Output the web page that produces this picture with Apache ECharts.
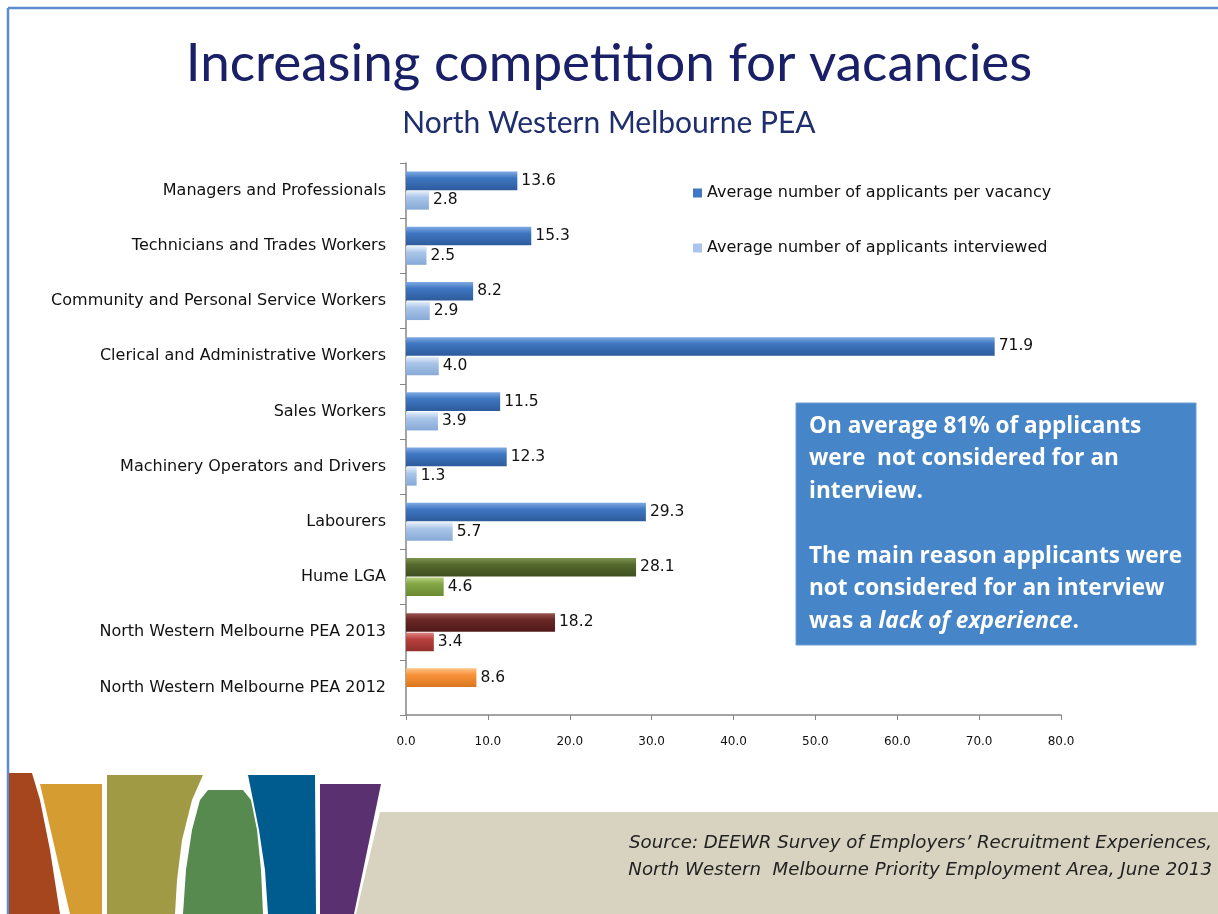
<!DOCTYPE html>
<html>
<head>
<meta charset="utf-8">
<script src="https://cdn.jsdelivr.net/npm/echarts@6/dist/echarts.min.js"></script>
<style>html,body{margin:0;padding:0;background:#fff}#c{width:1218px;height:914px}</style>
</head>
<body>
<div id="c"></div>
<script>
// ---- data ----
var categories = [
  'Managers and Professionals',
  'Technicians and Trades Workers',
  'Community and Personal Service Workers',
  'Clerical and Administrative Workers',
  'Sales Workers',
  'Machinery Operators and Drivers',
  'Labourers',
  'Hume LGA',
  'North Western Melbourne PEA 2013',
  'North Western Melbourne PEA 2012'
];
var perVacancy  = [13.6, 15.3, 8.2, 71.9, 11.5, 12.3, 29.3, 28.1, 18.2, 8.6];
var interviewed = [2.8, 2.5, 2.9, 4.0, 3.9, 1.3, 5.7, 4.6, 3.4, null];
var seriesNames = ['Average number of applicants per vacancy', 'Average number of applicants interviewed'];
var xTicks = [0, 10, 20, 30, 40, 50, 60, 70, 80];

// ---- styles ----
var blueMain  = ['#7faae3', '#3f77c2', '#2d5b9c'];
var blueLight = ['#e4eefa', '#a9c5e9', '#87a9d6'];
var mainColors = [blueMain, blueMain, blueMain, blueMain, blueMain, blueMain, blueMain,
  ['#7f9450', '#55692d', '#3f4f20'], ['#9a5552', '#6a2725', '#4e1a19'], ['#ffc183', '#f7923a', '#d9761e']];
var lightColors = [blueLight, blueLight, blueLight, blueLight, blueLight, blueLight, blueLight,
  ['#b8d27f', '#84a646', '#6a8a32'], ['#dc8583', '#b9403d', '#93302d'], null];

function grad(c) {
  return new echarts.graphic.LinearGradient(0, 0, 0, 1, [
    {offset: 0, color: c[0]}, {offset: 0.35, color: c[1]}, {offset: 1, color: c[2]}
  ]);
}
function build(vals, cols) {
  return vals.map(function (v, i) {
    if (v === null) return '-';
    return {value: v, itemStyle: {color: grad(cols[i])}};
  });
}

var FONT = 'DejaVu Sans';
var chart = echarts.init(document.getElementById('c'), null, {renderer: 'canvas'});
var labelCfg = {
  show: true, position: 'right', distance: 4, color: '#111', fontFamily: FONT, fontSize: 15.5,
  formatter: function (p) { return Number(p.value).toFixed(1); }
};
function poly(pts, fill) {
  return {type: 'polygon', shape: {points: pts}, style: {fill: fill}};
}

chart.setOption({
  backgroundColor: '#fff',
  animation: false,
  title: [
    {text: 'Increasing competition for vacancies', left: 'center', top: 32,
     textStyle: {fontFamily: 'Lato', fontWeight: 'normal', fontSize: 53, color: '#1a2067'}},
    {text: 'North Western Melbourne PEA', left: 'center', top: 103,
     textStyle: {fontFamily: 'Lato', fontWeight: 'normal', fontSize: 30, color: '#1f2f6e'}}
  ],
  legend: {
    orient: 'vertical', left: 688, top: 180, itemGap: 39,
    itemWidth: 9, itemHeight: 9, icon: 'rect',
    textStyle: {fontFamily: FONT, fontSize: 16, color: '#111'},
    data: seriesNames
  },
  grid: {left: 406, right: 157, top: 163, bottom: 199, containLabel: false},
  xAxis: {
    type: 'value', min: 0, max: 80, interval: 10,
    axisLine: {show: true, lineStyle: {color: '#868686', width: 1.5}},
    axisTick: {show: true, length: 5, lineStyle: {color: '#868686'}},
    splitLine: {show: false},
    axisLabel: {fontFamily: FONT, fontSize: 12, color: '#111', margin: 21,
      formatter: function (v) { return xTicks.indexOf(v) >= 0 ? v.toFixed(1) : ''; }}
  },
  yAxis: {
    type: 'category', inverse: true, data: categories,
    axisLine: {show: true, lineStyle: {color: '#868686', width: 1.5}},
    axisTick: {show: true, length: 6, lineStyle: {color: '#868686'}},
    axisLabel: {fontFamily: FONT, fontSize: 16, color: '#111', margin: 20}
  },
  series: [
    {name: seriesNames[0], type: 'bar', data: build(perVacancy, mainColors),
     itemStyle: {color: '#3f77c2'}, barCategoryGap: '31%', barGap: '5%', label: labelCfg},
    {name: seriesNames[1], type: 'bar', data: build(interviewed, lightColors),
     itemStyle: {color: '#a9c5e9'}, label: labelCfg}
  ],
  graphic: [
    {type: 'line', shape: {x1: 8, y1: 8, x2: 1218, y2: 8}, style: {stroke: '#5b8bd0', lineWidth: 2.5}},
    {type: 'line', shape: {x1: 8, y1: 8, x2: 8, y2: 914}, style: {stroke: '#5b8bd0', lineWidth: 2.5}},
    {type: 'rect', shape: {x: 796, y: 403, width: 400, height: 242}, style: {fill: '#4785c9', stroke: '#6d9bd6', lineWidth: 1}},
    {type: 'text', x: 809, y: 410, style: {
      text: 'On average 81% of applicants\nwere  not considered for an\ninterview.\n\nThe main reason applicants were\nnot considered for an interview\nwas a {i|lack of experience}.',
      fill: '#fff', fontFamily: 'Open Sans', fontWeight: 'bold', fontSize: 22.6, lineHeight: 32.5,
      rich: {i: {fontStyle: 'italic', fontWeight: 'bold', fontFamily: 'Open Sans', fontSize: 22.6, fill: '#fff', lineHeight: 32.5}}
    }},
    // bottom decorative band
    poly([[380, 812], [1218, 812], [1218, 914], [356, 914]], '#d8d3c1'),
    poly([[9, 773], [32, 773], [40, 800], [50, 850], [60, 914], [9, 914]], '#a5461e'),
    poly([[40, 784], [102, 784], [102, 914], [70, 914]], '#d59c32'),
    poly([[107, 775], [203, 775], [192, 800], [182, 840], [177, 880], [175, 914], [107, 914]], '#a09a45'),
    poly([[183, 914], [186, 870], [192, 830], [200, 800], [208, 790], [243, 790], [251, 800], [257, 830], [261, 870], [263, 914]], '#568a4f'),
    poly([[248, 775], [315, 775], [316, 914], [268, 914], [265, 870], [259, 830], [253, 800]], '#005b8e'),
    poly([[320, 784], [381, 784], [354, 914], [320, 914]], '#5b3070'),
    {type: 'text', x: 1212, y: 843, style: {text: 'Source: DEEWR Survey of Employers\u2019 Recruitment Experiences,',
      textAlign: 'right', textVerticalAlign: 'middle', fill: '#222', fontFamily: FONT, fontStyle: 'italic', fontSize: 18.2}},
    {type: 'text', x: 1212, y: 870, style: {text: 'North Western  Melbourne Priority Employment Area, June 2013',
      textAlign: 'right', textVerticalAlign: 'middle', fill: '#222', fontFamily: FONT, fontStyle: 'italic', fontSize: 18.2}}
  ]
});
</script>
</body>
</html>
